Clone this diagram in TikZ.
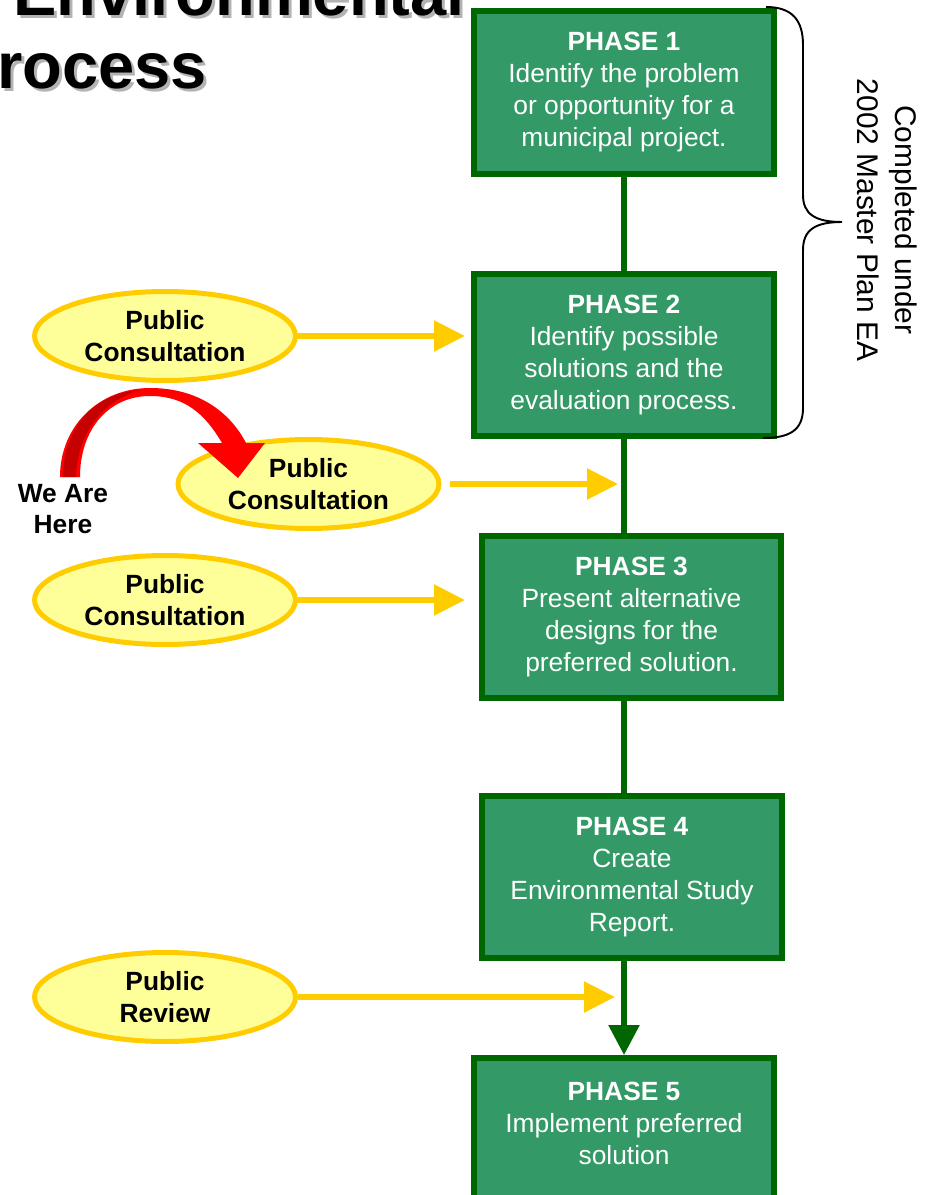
\documentclass[tikz,border=0pt]{standalone}
\usepackage{fontspec}
\setmainfont{Liberation Sans}
\usetikzlibrary{shapes.geometric,arrows.meta,calc}

\definecolor{phasefill}{HTML}{339966}
\definecolor{phaseline}{HTML}{006600}
\definecolor{pubfill}{HTML}{FFFF99}
\definecolor{publine}{HTML}{FFCC00}
\definecolor{arcred}{HTML}{FF0000}
\definecolor{arcdark}{HTML}{C40000}
\definecolor{headshadow}{HTML}{B3B3B3}

\begin{document}
\begin{tikzpicture}[x=0.02cm, y=-0.02cm,
  phasebox/.style={draw=phaseline, line width=0.12cm, fill=phasefill, text=white,
    minimum width=6cm, minimum height=3.26cm, inner sep=0pt, align=center,
    font=\fontsize{15}{18.2}\selectfont},
  pubbubble/.style={ellipse, draw=publine, line width=0.1cm, fill=pubfill,
    minimum width=5.22cm, minimum height=1.78cm, inner sep=0pt, align=center,
    font=\bfseries\fontsize{15}{17.8}\selectfont},
  mainline/.style={draw=phaseline, line width=0.11cm},
  pubarrow/.style={draw=publine, line width=0.11cm, -{Triangle[length=0.62cm,width=0.6cm]}},
  headline/.style={inner sep=0pt, font=\bfseries\fontsize{37}{40}\selectfont},
]
\useasboundingbox (0,0) rectangle (936,1195);
\clip (0,0) rectangle (936,1195);

% title, cut by the frame
\node[headline, text=headshadow, anchor=base east] at (468,19) {Environmental};
\node[headline, anchor=base east] (head1) at (465,16) {Environmental};
\node[headline, text=headshadow, anchor=base west] at (0,92) {rocess};
\node[headline, anchor=base west] (head2) at (-3,89) {rocess};

% phases
\node[phasebox] (p1) at (624,92.5) {\textbf{PHASE 1}\\Identify the problem\\or opportunity for a\\municipal project.};
\node[phasebox] (p2) at (624,355) {\textbf{PHASE 2}\\Identify possible\\solutions and the\\evaluation process.};
\node[phasebox] (p3) at (631.5,617) {\textbf{PHASE 3}\\Present alternative\\designs for the\\preferred solution.};
\node[phasebox] (p4) at (632,877) {\textbf{PHASE 4}\\Create\\Environmental Study\\Report.};
\node[phasebox] (p5) at (624,1139.5) {\textbf{PHASE 5}\\Implement preferred\\solution\\ \mbox{}};

\draw[mainline] (p1.south) -- (p2.north);
\draw[mainline] (p2.south) -- (p2.south |- p3.north);
\draw[mainline] (p2.south |- p3.south) -- (p2.south |- p4.north);
\draw[mainline, -{Triangle[length=0.6cm,width=0.6cm]}] (p5.north |- p4.south) -- (p5.north);

% public input
\node[pubbubble] (c1) at (165,336) {Public\\Consultation};
\node[pubbubble] (c2) at (308.5,484) {Public\\Consultation};
\node[pubbubble] (c3) at (165,600) {Public\\Consultation};
\node[pubbubble] (c4) at (165,997) {Public\\Review};

\coordinate (t1) at (465,336);
\coordinate (t2) at (618,484);
\coordinate (t3) at (465,600);
\coordinate (t4) at (615,997);
\draw[pubarrow] (c1.east) -- (t1);
\draw[pubarrow] ($(c2.east)+(9,0)$) -- (t2);
\draw[pubarrow] (c3.east) -- (t3);
\draw[pubarrow] (c4.east) -- (t4);

% we are here
\node[align=center, inner sep=0pt, font=\bfseries\fontsize{15}{17.8}\selectfont] (here) at (63,509) {We Are\\Here};
\fill[arcred] (60,477) .. controls (60,425) and (100,388) .. (150,388)
  .. controls (198,388) and (230,412) .. (246,443) -- (265,443) -- (238,478) -- (198,443) -- (222,443)
  .. controls (205,414) and (185,396) .. (150,396)
  .. controls (108,396) and (80,430) .. (80,477) -- cycle;
\fill[arcdark] (63,477) .. controls (63,428) and (95,393) .. (140,390)
  .. controls (104,400) and (77,432) .. (76,477) -- cycle;

% brace over phases 1 and 2
\coordinate (btop) at (766,7);
\coordinate (bbot) at (763,438);
\coordinate (btip) at (842,222);
\draw[line width=1.1pt] (btop) .. controls (792,7) and (803,20) .. (803,45) -- (803,195)
  .. controls (803,214) and (815,222) .. (btip)
  .. controls (815,222) and (803,230) .. (803,250) -- (803,408)
  .. controls (803,430) and (790,438) .. (bbot);
\node[rotate=-90, align=center, font=\fontsize{17}{22}\selectfont] (note) at (887,220) {Completed under\\2002 Master Plan EA};

\end{tikzpicture}
\end{document}
